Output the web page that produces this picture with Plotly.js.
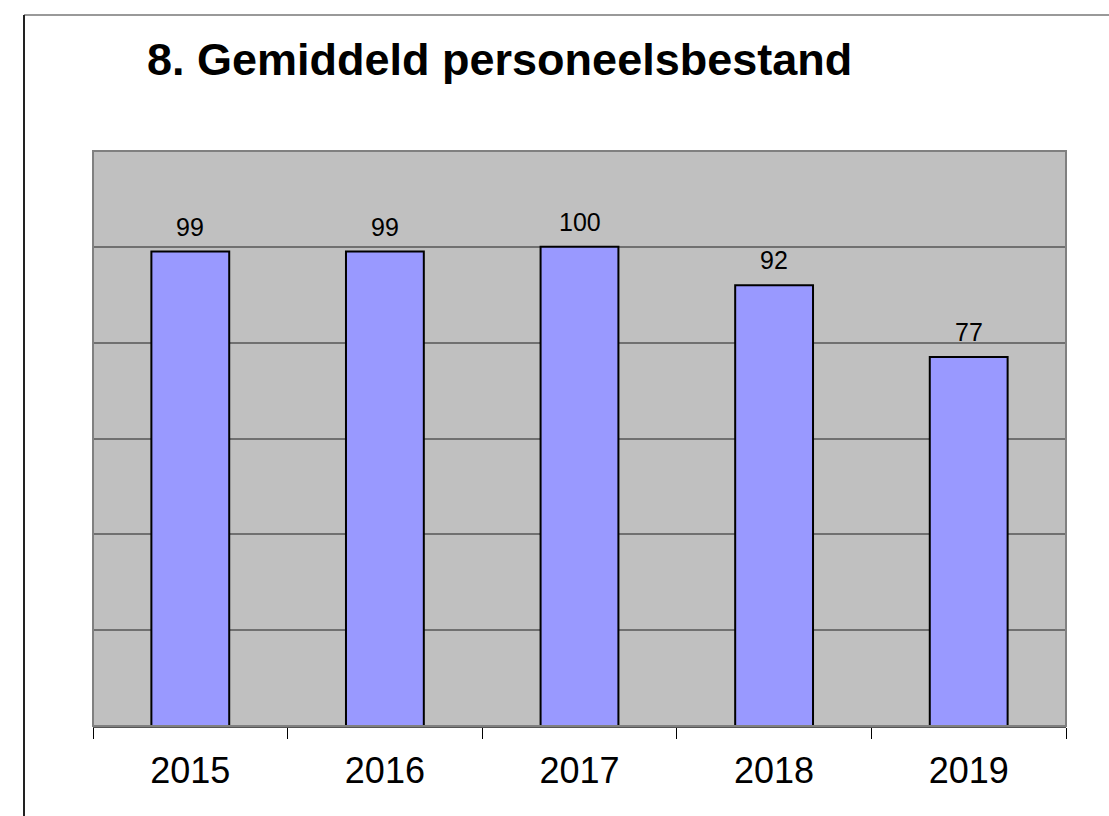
<!DOCTYPE html>
<html>
<head>
<meta charset="utf-8">
<script src="https://cdn.plot.ly/plotly-3.0.1.min.js"></script>
<style>
  html, body { margin: 0; padding: 0; background: #ffffff; }
  #chart { width: 1109px; height: 816px; }
</style>
</head>
<body>
<div id="chart"></div>
<script>
const years = ['2015', '2016', '2017', '2018', '2019'];
const staff = [99, 99, 100, 92, 77];
const titleText = '8. Gemiddeld personeelsbestand';

const trace = {
  type: 'bar',
  x: years,
  y: staff,
  marker: { color: '#9999FF', line: { color: '#000000', width: 2 } },
  hoverinfo: 'x+y'
};

// annotation x uses category index (numeric strings would be read as indices)
const annotations = years.map((yr, i) => ({
  x: i, y: staff[i], xref: 'x', yref: 'y',
  text: String(staff[i]), showarrow: false,
  yanchor: 'bottom', yshift: 9,
  font: { family: 'Liberation Sans, Arial, sans-serif', size: 25, color: '#000000' }
}));

const layout = {
  width: 1109, height: 816,
  margin: { l: 93, r: 43, t: 151, b: 90 },
  paper_bgcolor: '#ffffff',
  plot_bgcolor: '#C0C0C0',
  bargap: 0.6,
  showlegend: false,
  font: { family: 'Liberation Sans, Arial, sans-serif', color: '#000000' },
  title: {
    text: '<b>' + titleText + '</b>',
    xref: 'container', yref: 'container',
    x: 147 / 1109, xanchor: 'left',
    y: 1 - 59 / 816, yanchor: 'middle',
    font: { family: 'Liberation Sans, Arial, sans-serif', size: 45, color: '#000000' }
  },
  xaxis: {
    type: 'category',
    categoryorder: 'array', categoryarray: years,
    range: [-0.5, years.length - 0.5],
    tickson: 'boundaries',
    ticks: 'outside', ticklen: 11, tickwidth: 1, tickcolor: '#000000',
    tickangle: 0,
    ticklabelstandoff: 12,
    showgrid: false,
    showline: true, linecolor: '#555555', linewidth: 2,
    tickfont: { family: 'Liberation Sans, Arial, sans-serif', size: 36, color: '#000000' },
    zeroline: false
  },
  yaxis: {
    range: [0, 120],
    dtick: 20,
    showticklabels: false,
    ticks: '',
    showgrid: true, gridcolor: '#707070', gridwidth: 2,
    zeroline: false,
    showline: false,
    fixedrange: true
  },
  annotations: annotations,
  shapes: [
    { type: 'rect', xref: 'paper', yref: 'paper', x0: 0, x1: 1, y0: 0, y1: 1,
      line: { color: '#808080', width: 2 }, layer: 'above' },
    { type: 'line', xref: 'paper', yref: 'paper', x0: (24 - 93) / 973, x1: (1109 - 93) / 973,
      y0: (726 - 15) / 575, y1: (726 - 15) / 575, line: { color: '#999999', width: 2 } },
    { type: 'line', xref: 'paper', yref: 'paper', x0: (24 - 93) / 973, x1: (24 - 93) / 973,
      y0: (726 - 15) / 575, y1: (726 - 816) / 575, line: { color: '#222222', width: 2 } }
  ]
};

Plotly.newPlot('chart', [trace], layout, { displayModeBar: false, staticPlot: true });
</script>
</body>
</html>
